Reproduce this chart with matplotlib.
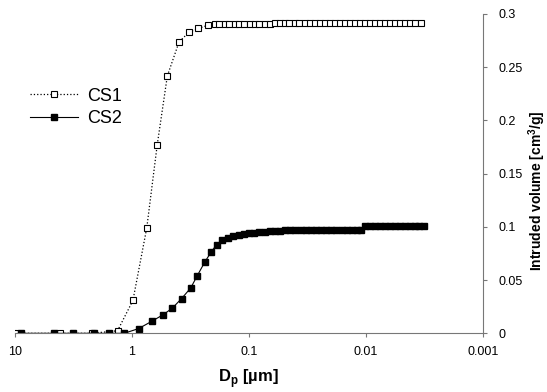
import numpy as np
import matplotlib
matplotlib.use('Agg')
import matplotlib.pyplot as plt

plt.rcParams['font.family'] = ['Liberation Sans', 'DejaVu Sans']
plt.rcParams['mathtext.fontset'] = 'custom'
plt.rcParams['mathtext.rm'] = 'Liberation Sans'
plt.rcParams['mathtext.bf'] = 'Liberation Sans:bold'

# pore diameter [um] and intruded volume [cm3/g]
cs1_d = [10.0, 4.06, 2.2, 1.32, 0.975, 0.743, 0.605, 0.496, 0.394, 0.323, 0.270, 0.224, 0.194,
         0.178, 0.161, 0.146, 0.132, 0.120, 0.109, 0.098, 0.089, 0.081, 0.073, 0.066, 0.060,
         0.054, 0.049, 0.045, 0.040, 0.037, 0.033, 0.030, 0.027, 0.0246, 0.0223, 0.0202,
         0.0183, 0.0166, 0.0150, 0.0136, 0.0123, 0.0112, 0.0101, 0.0092, 0.0083, 0.0075,
         0.0068, 0.0062, 0.0056, 0.0051, 0.0046, 0.0042, 0.0038, 0.00335]
cs1_v = [0.0, 0.0, 0.0, 0.0024, 0.031, 0.099, 0.177, 0.2417, 0.2737, 0.283, 0.2865, 0.2893, 0.2902,
         0.2905, 0.2906, 0.2907, 0.2908, 0.2908, 0.2909, 0.2909, 0.2910, 0.2910, 0.2910, 0.2910, 0.2911,
         0.2911, 0.2911, 0.2911, 0.2911, 0.2911, 0.2911, 0.2911, 0.2911, 0.2911, 0.2911, 0.2911,
         0.2911, 0.2911, 0.2911, 0.2911, 0.2911, 0.2911, 0.2912, 0.2912, 0.2912, 0.2912,
         0.2912, 0.2912, 0.2912, 0.2912, 0.2912, 0.2912, 0.2912, 0.2912]

cs2_d = [8.86, 4.58, 3.16, 2.10, 1.56, 1.16, 0.874, 0.673, 0.536, 0.448, 0.375, 0.313, 0.275,
         0.236, 0.209, 0.188, 0.168, 0.149, 0.135, 0.122, 0.110, 0.100, 0.090, 0.081, 0.073,
         0.066, 0.060, 0.054, 0.049, 0.044, 0.040, 0.036, 0.0325, 0.0295, 0.0266, 0.024,
         0.0218, 0.0197, 0.0178, 0.0161, 0.0146, 0.0132, 0.0120, 0.0110,
         0.0102, 0.0092, 0.0083, 0.0075, 0.0068, 0.0062, 0.0056, 0.0051, 0.0046, 0.0042,
         0.0038, 0.0035, 0.0032]
cs2_v = [0.0, 0.0, 0.0, 0.0, 0.0, 0.0, 0.0044, 0.0113, 0.0176, 0.0238, 0.0326, 0.0426, 0.0542,
         0.0674, 0.0765, 0.0834, 0.0875, 0.0900, 0.0915, 0.0925, 0.0933, 0.0940, 0.0946, 0.0951, 0.0955,
         0.0959, 0.0962, 0.0965, 0.0967, 0.0969, 0.0971, 0.0972, 0.0973, 0.0973, 0.0973, 0.0973,
         0.0973, 0.0973, 0.0973, 0.0973, 0.0973, 0.0973, 0.0973, 0.0973,
         0.1005, 0.1005, 0.1005, 0.1005, 0.1005, 0.1005, 0.1005, 0.1005, 0.1005, 0.1005,
         0.1005, 0.1005, 0.1005]

xticks = [10, 1, 0.1, 0.01, 0.001]
xticklabels = ['10', '1', '0.1', '0.01', '0.001']
yticks = [0, 0.05, 0.1, 0.15, 0.2, 0.25, 0.3]
yticklabels = ['0', '0.05', '0.1', '0.15', '0.2', '0.25', '0.3']

fig = plt.figure(figsize=(5.47, 3.92), dpi=100)
ax = fig.add_axes([0.0267, 0.1497, 0.856, 0.8146])

ax.plot(cs1_d, cs1_v, linestyle=':', color='black', linewidth=0.9, marker='s',
        markersize=4.5, markerfacecolor='white', markeredgecolor='black',
        markeredgewidth=0.8, label='CS1')
ax.plot(cs2_d, cs2_v, linestyle='-', color='black', linewidth=0.8, marker='s',
        markersize=5, markerfacecolor='black', markeredgecolor='black', label='CS2')

ax.set_xscale('log')
ax.set_xlim(10, 0.001)
ax.set_ylim(0, 0.3)
ax.set_xticks(xticks)
ax.set_xticklabels(xticklabels)
ax.minorticks_off()
ax.set_yticks(yticks)
ax.set_yticklabels(yticklabels)

ax.yaxis.tick_right()
ax.yaxis.set_label_position('right')
for s in ['top', 'left']:
    ax.spines[s].set_visible(False)
for s in ['bottom', 'right']:
    ax.spines[s].set_color('#777777')
    ax.spines[s].set_linewidth(0.8)
ax.tick_params(axis='both', direction='out', length=3, width=0.8, color='#777777',
               labelsize=9)
ax.tick_params(axis='x', pad=6)
ax.tick_params(axis='y', pad=8)

ax.set_xlabel(r'D$_\mathregular{p}$ [µm]', fontsize=12, fontweight='bold', labelpad=7)
ax.set_ylabel(r'Intruded volume [cm$^\mathbf{3}$/g]', fontsize=10, fontweight='bold')
ax.yaxis.set_label_coords(1.092, 0.446)

ax.legend(loc='center left', bbox_to_anchor=(30 / 547, 1 - 107.5 / 392),
          bbox_transform=fig.transFigure, frameon=False, fontsize=13,
          handlelength=2.67, handletextpad=0.5, labelspacing=0.3,
          borderpad=0, borderaxespad=0)

fig.savefig('out.png', dpi=100)
